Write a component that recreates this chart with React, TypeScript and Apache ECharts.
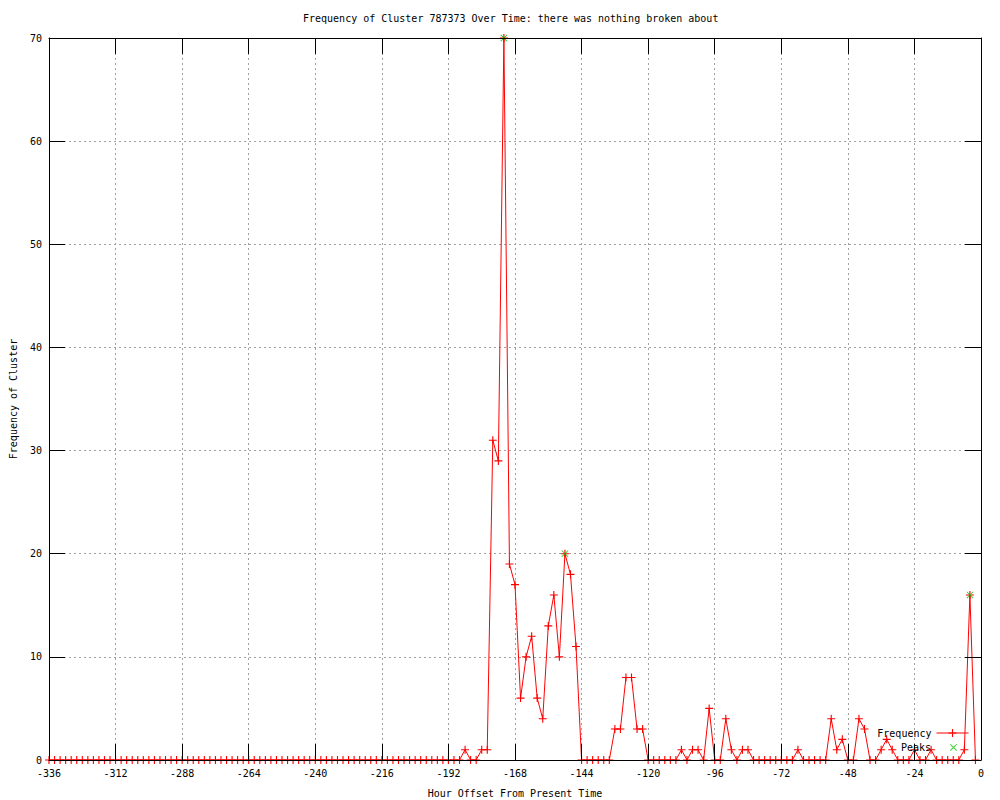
import { useEffect, useRef } from 'react';
import * as echarts from 'echarts';

// Frequency per 2-hour bin, from -336 h up to -2 h (one row = 24 hours)
const FREQUENCY: number[] = [
  0, 0, 0, 0, 0, 0, 0, 0, 0, 0, 0, 0,
  0, 0, 0, 0, 0, 0, 0, 0, 0, 0, 0, 0,
  0, 0, 0, 0, 0, 0, 0, 0, 0, 0, 0, 0,
  0, 0, 0, 0, 0, 0, 0, 0, 0, 0, 0, 0,
  0, 0, 0, 0, 0, 0, 0, 0, 0, 0, 0, 0,
  0, 0, 0, 0, 0, 0, 0, 0, 0, 0, 0, 0,
  0, 0, 0, 1, 0, 0, 1, 1, 31, 29, 70, 19,
  17, 6, 10, 12, 6, 4, 13, 16, 10, 20, 18, 11,
  0, 0, 0, 0, 0, 0, 3, 3, 8, 8, 3, 3,
  0, 0, 0, 0, 0, 0, 1, 0, 1, 1, 0, 5,
  0, 0, 4, 1, 0, 1, 1, 0, 0, 0, 0, 0,
  0, 0, 0, 1, 0, 0, 0, 0, 0, 4, 1, 2,
  0, 0, 4, 3, 0, 0, 1, 2, 1, 0, 0, 0,
  1, 0, 0, 1, 0, 0, 0, 0, 0, 1, 16, 0,
];
const HOUR_START = -336;
const HOUR_STEP = 2;
const HOURS: number[] = FREQUENCY.map((_, i) => HOUR_START + i * HOUR_STEP);

const PEAK_HOURS: number[] = [-172, -150, -4];
const PEAK_VALUES: number[] = [70, 20, 16];

const X_MIN = -336;
const X_MAX = 0;
const X_STEP = 24;
const Y_MIN = 0;
const Y_MAX = 70;
const Y_STEP = 10;

const TITLE = 'Frequency of Cluster 787373 Over Time: there was nothing broken about';
const X_NAME = 'Hour Offset From Present Time';
const Y_NAME = 'Frequency of Cluster';

const FONT = 'DejaVu Sans Mono';
const PLUS = 'path://M0,4.3H10V5.7H0Z M4.3,0H5.7V10H4.3Z';
const CROSS = 'path://M0,0.9L0.9,0L10,9.1L9.1,10Z M9.1,0L10,0.9L0.9,10L0,9.1Z';

const textStyle = { fontFamily: FONT, fontSize: 10, color: '#000' };

export default function App() {
  const ref = useRef<HTMLDivElement>(null);
  useEffect(() => {
    document.body.style.margin = '0';
    const chart = echarts.init(ref.current!, null, { renderer: 'svg' });
    const frameX = (position: 'top' | 'bottom') => ({
      type: 'value' as const,
      position,
      min: X_MIN,
      max: X_MAX,
      interval: X_STEP,
      z: 10,
      axisLine: { show: true, onZero: false, lineStyle: { color: '#000', width: 1 } },
      axisTick: { show: true, inside: true, length: 16, lineStyle: { color: '#000' } },
      axisLabel: { show: false },
      splitLine: { show: false },
    });
    const frameY = (position: 'left' | 'right') => ({
      type: 'value' as const,
      position,
      min: Y_MIN,
      max: Y_MAX,
      interval: Y_STEP,
      z: 10,
      axisLine: { show: true, onZero: false, lineStyle: { color: '#000', width: 1 } },
      axisTick: { show: true, inside: true, length: 16, lineStyle: { color: '#000' } },
      axisLabel: { show: false },
      splitLine: { show: false },
    });
    chart.setOption({
      animation: false,
      backgroundColor: '#fff',
      title: {
        text: TITLE,
        left: 303,
        top: 13,
        padding: 0,
        textStyle: { ...textStyle, fontWeight: 'normal' },
      },
      grid: {
        left: 49,
        right: 19,
        top: 38,
        bottom: 40,
        containLabel: false,
        outerBoundsMode: 'none',
      },
      legend: [
        {
          data: [{ name: 'Frequency' }],
          right: 31,
          top: 728,
          align: 'right',
          orient: 'vertical',
          itemWidth: 32,
          itemHeight: 10,
          padding: 0,
          selectedMode: false,
          lineStyle: { width: 1 },
          textStyle,
        },
        {
          data: [{ name: 'Peaks', icon: CROSS }],
          right: 43,
          top: 742.5,
          align: 'right',
          orient: 'vertical',
          itemWidth: 7,
          itemHeight: 7,
          padding: 0,
          selectedMode: false,
          textStyle: { ...textStyle, padding: [0, 14, 0, 0] },
        },
      ],
      xAxis: [
        {
          type: 'value',
          position: 'bottom',
          min: X_MIN,
          max: X_MAX,
          interval: X_STEP,
          name: X_NAME,
          nameLocation: 'middle',
          nameGap: 28,
          nameTextStyle: textStyle,
          axisLine: { show: false },
          axisTick: { show: false },
          axisLabel: { ...textStyle, margin: 8 },
          splitLine: {
            show: true,
            showMinLine: false,
            showMaxLine: false,
            lineStyle: { color: '#a0a0a0', type: [2, 3], width: 1 },
          },
        },
        frameX('bottom'),
        frameX('top'),
      ],
      yAxis: [
        {
          type: 'value',
          position: 'left',
          min: Y_MIN,
          max: Y_MAX,
          interval: Y_STEP,
          name: Y_NAME,
          nameLocation: 'middle',
          nameGap: 31,
          nameTextStyle: textStyle,
          axisLine: { show: false },
          axisTick: { show: false },
          axisLabel: { ...textStyle, margin: 7 },
          splitLine: {
            show: true,
            showMinLine: false,
            showMaxLine: false,
            lineStyle: { color: '#a0a0a0', type: [2, 3], width: 1 },
          },
        },
        frameY('left'),
        frameY('right'),
      ],
      series: [
        {
          name: 'Frequency',
          type: 'line',
          xAxisIndex: 0,
          yAxisIndex: 0,
          data: HOURS.map((h, i) => [h, FREQUENCY[i]]),
          symbol: PLUS,
          symbolSize: 8,
          showAllSymbol: true,
          lineStyle: { color: '#ff0000', width: 1 },
          itemStyle: { color: '#ff0000' },
          z: 3,
        },
        {
          name: 'Peaks',
          type: 'scatter',
          xAxisIndex: 0,
          yAxisIndex: 0,
          data: PEAK_HOURS.map((h, i) => [h, PEAK_VALUES[i]]),
          symbol: CROSS,
          symbolSize: 7,
          itemStyle: { color: '#00c000' },
          z: 4,
        },
      ],
    });
    return () => chart.dispose();
  }, []);
  return <div ref={ref} style={{ width: 1000, height: 800 }} />;
}
